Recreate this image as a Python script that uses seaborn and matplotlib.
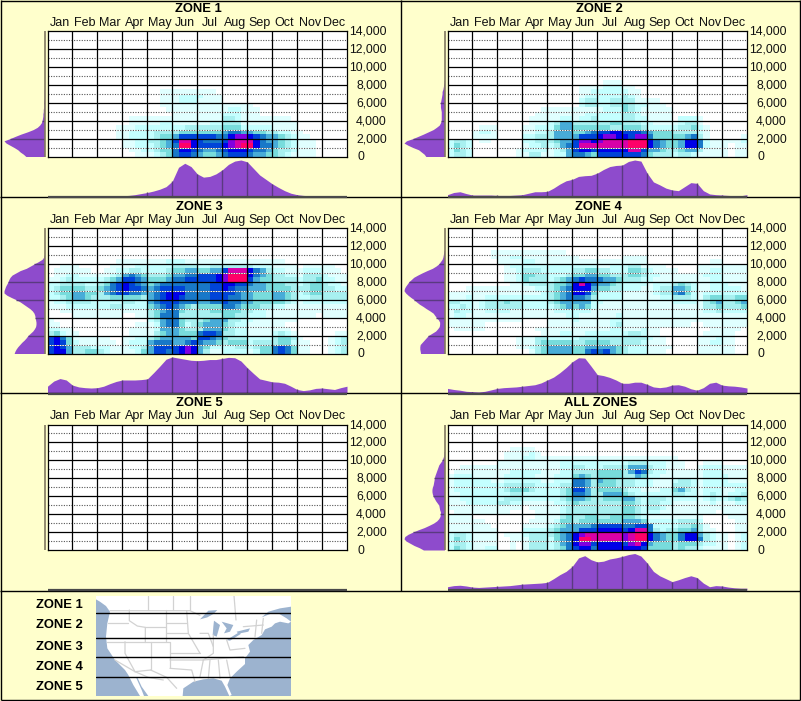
import matplotlib as mpl
mpl.use('Agg')
import matplotlib.pyplot as plt
from matplotlib.colors import ListedColormap
import numpy as np
import pandas as pd
import seaborn as sns

MONTHS = ["Jan", "Feb", "Mar", "Apr", "May", "Jun", "Jul", "Aug", "Sep", "Oct", "Nov", "Dec"]
ELEV_LABELS = ["14,000", "12,000", "10,000", "8,000", "6,000", "4,000", "2,000", "0"]
ELEVATIONS = [14000, 12000, 10000, 8000, 6000, 4000, 2000, 0]
ZONE_NAMES = ["ZONE 1", "ZONE 2", "ZONE 3", "ZONE 4", "ZONE 5"]

# shade level per cell, 4 cells a month, 500 ft rows, written top row first.
# rows above the listed ones are empty
ZONE1_CELLS = [
    "0000 0000 0000 0000 0011 1111 1110 0000 0000 0000 0000 0000",
    "0000 0000 0000 0000 0011 1222 2111 0000 0000 0000 0000 0000",
    "0000 0000 0000 0000 0011 1222 1111 0000 0000 0000 0000 0000",
    "0000 0000 0000 0000 0011 1111 1111 1111 1000 0000 0000 0000",
    "0000 0000 0000 0000 0001 1111 1111 1221 1100 0000 0000 0000",
    "0000 0000 0000 0000 0000 1111 1111 2221 1100 0000 0000 0000",
    "0000 0000 0000 0111 1111 1111 1111 3321 1111 1110 0000 0000",
    "0000 0000 0000 0111 1122 1111 1122 3331 1111 1111 0000 0000",
    "0000 0000 0001 1122 2222 2233 3333 4442 2222 1111 0000 0000",
    "0000 0000 0001 1222 2333 3444 4444 5665 5443 3221 1000 0000",
    "0000 0000 0001 1222 2344 5777 7776 6899 8765 5432 1100 0000",
    "0000 0000 0000 1122 3345 7aa8 7666 79aa a865 5432 1110 0000",
    "0000 0000 0000 1122 2345 6bb8 7777 89ab b866 5432 1110 0000",
    "0000 0000 0000 0112 2344 6887 6556 7888 7665 4332 1110 0000",
    "0000 0000 0000 0011 1234 6776 5445 6777 6554 4321 1110 0000",
]
ZONE2_CELLS = [
    "0000 0000 0000 0000 0000 0000 0111 0000 0000 0000 0000 0000",
    "0000 0000 0000 0000 0000 0111 1222 1100 0000 0000 0000 0000",
    "0000 0000 0000 0000 0000 0112 2222 2110 0000 0000 0000 0000",
    "0000 0000 0000 0000 0000 0122 2222 3210 0000 0000 0000 0000",
    "0000 0000 0000 0000 0000 0233 2233 3311 1100 0000 0000 0000",
    "0000 0000 0000 0000 0000 0233 2233 4322 1110 0000 0000 0000",
    "0000 0000 0000 0001 1111 1111 1222 4321 1111 0000 0000 0000",
    "0000 0000 0000 0011 1111 1122 2222 3321 1111 0000 0000 0000",
    "0000 0000 0000 0111 1122 1223 2222 3322 1111 0222 1000 0000",
    "0000 0000 0000 0111 2355 3333 3344 3332 2111 1233 1000 0000",
    "0000 0111 0000 1122 2455 4444 4433 4443 2222 2334 2100 0000",
    "0000 1221 0000 1122 3555 4456 7788 7776 5444 3333 2100 0000",
    "0000 1111 0000 2233 3555 5777 8998 8799 6444 4456 3100 0001",
    "2332 0110 0000 2233 3455 7998 9aaa abbb 8654 4588 6211 1112",
    "2432 0000 0000 1223 2356 7aaa aaaa abbb 8654 4588 6211 1011",
    "2432 0000 0001 2222 1235 7887 8888 8aa7 5543 3455 3111 1011",
    "2332 0000 0001 1331 1225 6654 7777 7776 4333 2332 1111 1011",
]
ZONE3_CELLS = [
    "0000 0000 0001 1111 1112 2211 1111 1111 1111 1100 0000 0000",
    "0011 1000 0011 1122 2222 3333 2233 3333 3222 1111 0111 1100",
    "0111 1110 0112 2332 2223 4455 4455 7aaa 8653 2211 1222 1110",
    "0112 2111 1123 5654 3334 5566 7778 9bbb 8654 3322 1333 2111",
    "1123 2222 2345 7765 4445 6677 7778 9bbb 7544 3333 2334 2211",
    "2233 3322 3467 8765 4566 6666 6677 8877 6554 4433 2344 3221",
    "2344 4433 4567 8776 5677 7766 6677 8766 5554 4443 3344 3322",
    "2344 5544 3567 7665 5678 8866 6677 7765 5444 5543 2344 3333",
    "2234 5543 3344 4443 5678 8766 6677 7665 5444 5543 2233 3333",
    "1223 3332 2222 3322 5677 7666 5566 7665 5444 4432 1222 2222",
    "1112 2222 2233 2222 4567 6543 4444 6654 4433 2211 1111 1111",
    "0011 1111 1111 1111 3456 6433 3344 4443 3221 1111 1111 1111",
    "0000 1111 1111 0011 3466 6333 3333 4433 2221 1111 1110 1111",
    "1000 0000 0000 0000 2356 6433 3455 5332 2111 1111 0000 0000",
    "1100 0000 0000 0011 1256 6423 4555 4322 1111 1100 0000 0000",
    "2211 0000 0000 0111 1255 5433 3555 4322 1111 1110 0000 0000",
    "3421 1000 0000 0111 1345 5444 6776 3322 1111 2321 0000 0011",
    "7864 1111 1100 1122 3455 5554 7765 4333 2222 3443 1000 0123",
    "7874 2111 1110 1222 5666 5567 6554 3444 2333 3442 1100 0123",
    "7875 3332 2211 1223 5777 7898 5422 2233 2344 6764 1100 0123",
    "7885 3344 3211 1124 5776 7898 5311 2222 1244 6764 1100 0123",
]
ZONE4_CELLS = [
    "0000 0001 1111 1111 1110 0000 0000 0000 0000 0000 0000 0000",
    "0000 0001 1122 1111 1111 1000 0000 1111 0000 0000 0000 0000",
    "0000 0000 1111 2211 1111 1111 1111 1111 0000 0000 0011 0000",
    "0000 0000 0122 2222 2222 2222 1122 2331 1110 0000 1111 1111",
    "0000 0000 0112 3332 2222 3344 3322 2443 2111 1000 1122 1111",
    "0000 0000 0112 4433 2223 4455 4433 3443 2211 1111 1222 1111",
    "0000 0000 0112 4333 2345 6766 6554 3332 2111 1111 1122 1111",
    "0000 0000 0011 2333 3445 8a86 5543 2222 1222 3432 1122 2111",
    "0001 1111 1111 1122 3456 8885 4433 2221 1233 5542 1122 2221",
    "1111 1111 1111 1112 3456 8874 2222 1111 1233 5642 1222 2222",
    "1112 1122 2222 2222 3456 6653 2222 1111 1122 3332 1344 3344",
    "3322 1233 3433 2222 3455 5552 2111 1111 1111 2222 1345 3345",
    "2232 1233 3333 2222 2345 4542 1111 1111 1111 1111 1334 3334",
    "1322 1122 2211 1111 1222 2221 1111 1111 1111 1111 1223 2222",
    "1221 1111 1111 1111 1112 2111 1112 1111 1111 1111 1111 1111",
    "1111 1111 1111 0000 1111 2111 1122 1111 1111 1111 1111 1111",
    "1111 1100 0000 0000 1111 1111 1123 1111 1111 1110 0111 1111",
    "0111 1100 0000 0011 1111 1111 1122 1112 1100 0000 0011 1110",
    "0000 0000 0000 0001 1122 1122 2222 2332 1100 0000 0111 1100",
    "0000 0000 0001 1133 2222 2333 3333 3333 2110 0000 1112 1100",
    "0000 0000 0001 1134 4444 3344 4433 3332 1110 0000 1122 1100",
    "0000 0000 0001 1234 5555 4455 5554 3222 1111 0000 1111 1100",
    "0000 0000 0000 0134 5555 4467 6754 3222 1110 0000 1111 1100",
]
ZONE5_CELLS = []
ALL_CELLS = [
    "0000 0000 0011 1100 0000 0000 0000 0000 0000 0000 0000 0000",
    "0000 0000 0111 1210 0000 0000 0000 0000 0000 0000 0000 0000",
    "0000 0000 0111 2211 1111 1111 1111 1111 1111 1000 0000 0000",
    "0000 0000 1111 1111 1122 2222 2222 2333 2221 1100 0111 0000",
    "0011 1111 1111 1111 1122 3322 2333 3555 3221 1100 1222 1111",
    "0111 1111 1122 2221 1122 3333 4444 3576 3221 1111 1222 1111",
    "1222 1111 1222 2211 1222 4543 4444 3354 2211 1111 1222 2111",
    "1222 2221 1222 2221 1222 6653 5443 3322 2111 2332 1222 2111",
    "1222 2222 2333 3322 2233 6653 4443 3322 2111 3332 1222 2222",
    "1222 2222 2344 4322 2234 7753 4444 3221 1122 4532 1222 1122",
    "1122 2222 2233 2222 2234 6653 3555 4322 2222 3322 1232 1223",
    "1122 2222 2333 2222 2234 5543 3444 5532 3332 2222 1232 2343",
    "1112 2222 3322 1111 1223 4333 3333 4432 3322 1111 1121 1122",
    "1111 1111 1111 0111 1123 3333 3333 4432 3321 1111 1111 1111",
    "0111 1111 1100 0011 1123 3333 3333 4432 2211 1111 1110 1111",
    "1111 0000 0000 0011 1134 3344 3344 4432 1111 1111 1000 0111",
    "1111 1100 0000 0111 1244 3444 4444 5554 2222 2333 2000 0011",
    "1111 1110 0000 1111 2345 5556 7777 6677 6222 2334 3100 0011",
    "1111 1111 0000 2222 3455 5777 8888 78aa 6323 3445 3110 0011",
    "2332 1111 0111 2333 3456 89aa aaaa 9abb 8654 4688 5321 1012",
    "2432 1111 0011 1333 2456 8bba aaaa 9abb 8654 4688 6321 1012",
    "2332 1111 0010 1333 2356 8997 8888 79a8 5444 3444 3221 1012",
    "2432 1122 0010 1333 2346 7886 8888 8887 4444 3433 2111 1012",
]

# marginal height in percent, sampled every quarter month
ZONE1_TOP = [0, 0, 0, 0, 0, 0, 0, 0, 0, 0, 1, 1, 2, 3, 5, 8, 11, 15, 20, 27, 42, 80, 91, 82, 62,
             53, 55, 62, 73, 88, 97, 100, 95, 77, 59, 47, 35, 25, 16, 9, 5, 3, 2, 1, 1, 0, 0, 0, 0]
ZONE2_TOP = [5, 11, 13, 8, 4, 4, 4, 4, 3, 3, 3, 4, 5, 9, 13, 13, 14, 23, 34, 43, 47, 55, 57, 58, 64,
             74, 82, 85, 86, 96, 100, 97, 64, 40, 32, 23, 18, 16, 27, 38, 36, 16, 7, 5, 4, 3, 2, 2, 5]
ZONE3_TOP = [20, 34, 41, 37, 23, 18, 16, 15, 16, 20, 27, 33, 37, 37, 37, 38, 40, 57, 75, 94, 100, 97, 94, 91, 90,
             91, 93, 93, 96, 99, 98, 89, 71, 55, 40, 36, 32, 31, 28, 20, 11, 8, 10, 14, 15, 13, 11, 16, 20]
ZONE4_TOP = [14, 11, 9, 6, 5, 4, 6, 10, 14, 16, 17, 18, 20, 22, 24, 29, 37, 45, 57, 71, 87, 98, 97, 75, 52,
             49, 44, 37, 28, 28, 31, 31, 25, 18, 16, 18, 23, 24, 20, 13, 9, 16, 28, 31, 23, 21, 20, 18, 15]
ZONE5_TOP = [0] * 49
ALL_TOP = [9, 12, 13, 11, 8, 7, 8, 9, 10, 11, 12, 14, 16, 17, 18, 19, 21, 31, 42, 51, 65, 88, 94, 83, 77,
           79, 85, 88, 92, 97, 100, 93, 74, 51, 39, 31, 23, 28, 34, 39, 34, 19, 9, 12, 11, 8, 6, 5, 5]

# marginal width in percent, sampled every 250 ft from 0 up
ZONE1_LEFT = [46, 52, 60, 66, 75, 85, 95, 100, 85, 72, 58, 42, 28, 18, 12, 8, 6, 5, 4, 4, 3, 3, 2, 2, 2, 2, 1, 1, 1, 1, 1]
ZONE2_LEFT = [46, 50, 57, 64, 78, 90, 100, 94, 78, 65, 52, 40, 28, 20, 13, 10, 8, 8, 8, 8, 8, 9, 10, 10, 10, 9, 8, 7,
              6, 6, 4, 3, 2, 1, 1]
ZONE3_LEFT = [75, 73, 70, 66, 61, 56, 50, 45, 41, 35, 29, 25, 22, 21, 21, 22, 23, 24, 26, 30, 36, 44, 52, 60, 70, 82,
              93, 100, 100, 98, 96, 93, 90, 88, 85, 80, 70, 60, 45, 35, 25, 15, 6, 2, 1]
ZONE4_LEFT = [59, 60, 61, 61, 60, 55, 50, 45, 40, 31, 22, 17, 13, 12, 12, 15, 20, 24, 28, 36, 45, 53, 62, 69, 75, 83,
              90, 96, 100, 99, 96, 92, 88, 82, 76, 66, 55, 43, 30, 21, 14, 10, 6, 4, 3, 2, 1]
ZONE5_LEFT = [0] * 29
ALL_LEFT = [52, 62, 75, 85, 95, 100, 98, 90, 78, 65, 50, 38, 27, 19, 14, 11, 10, 10, 12, 13, 14, 18, 22, 25, 28, 30,
            31, 31, 30, 28, 27, 26, 25, 24, 22, 20, 18, 16, 14, 10, 6, 4, 2, 1, 1]

SHADES = ["#FFFFFF", "#E0FFFF", "#C4FFFF", "#A8F0F0", "#78DCDC", "#48ACD8",
          "#1878C8", "#0044D8", "#0000E8", "#8000E0", "#D800A8", "#FF0068"]
BG = "#FFFFCC"
PURPLE = "#8E4BCC"

sns.set_theme(style="white")
plt.rcParams['font.family'] = ['Liberation Sans', 'DejaVu Sans']

W, H = 801, 701
cmap = ListedColormap(SHADES)
fig = plt.figure(figsize=(W / 100, H / 100), dpi=100, facecolor=BG)


def px_axes(x0, y0, x1, y1):
    # axes from pixel box, y measured from top of the image
    return fig.add_axes([x0 / W, 1 - y1 / H, (x1 - x0) / W, (y1 - y0) / H])


def to_frame(rows):
    table = [list(r.replace(" ", "")) for r in rows]
    table = [[int(c, 16) for c in r] for r in table]
    blank = [[0] * 48 for _ in range(28 - len(table))]
    return pd.DataFrame(blank + table)


def draw_zone(x0, y0, title, title_x, title_y, cells, top, left):
    x1 = x0 + 299.5
    y1 = y0 + 125.5
    ax = px_axes(x0, y0, x1, y1)
    sns.heatmap(to_frame(cells), ax=ax, cmap=cmap, vmin=-0.5, vmax=11.5, cbar=False,
                xticklabels=False, yticklabels=False)
    # odd thousands are a white line with dark dots on it
    for r in range(2, 28, 4):
        ax.axhline(r, color="white", lw=0.7)
        ax.axhline(r, color="#555555", lw=0.8, ls=(0, (1, 1.3)))
    for r in range(4, 28, 4):
        ax.axhline(r, color="black", lw=0.9)
    for c in range(4, 48, 4):
        ax.axvline(c, color="black", lw=0.9)
    for s in ax.spines.values():
        s.set_visible(True)
        s.set_color("black")
        s.set_linewidth(0.9)
    ax.xaxis.tick_top()
    ax.set_xticks(np.arange(2, 48, 4))
    ax.set_xticklabels(MONTHS, fontsize=9, color="#111111")
    ax.tick_params(axis='x', length=0, pad=1.5)
    ax.set_yticks([])
    ax.set_xlabel("")
    ax.set_ylabel("")

    over.text(title_x, title_y + 0.5, title, ha="center", va="center", fontsize=9.4,
              fontweight="bold", color="black")
    for lab, el in zip(ELEV_LABELS, ELEVATIONS):
        yy = y1 - el / 14000 * (y1 - y0)
        if lab == "0":
            over.text(x0 + 309.5, yy + 0.5, lab, ha="left", va="center", fontsize=8.8, color="#111111")
        else:
            over.text(x0 + 339.5, yy + 0.5, lab, ha="right", va="center", fontsize=8.8, color="#111111")

    # top marginal, month position on x
    tx = px_axes(x0, y0 + 129, x1, y0 + 165.5)
    months_x = np.arange(len(top)) / 4
    tx.fill_between(months_x, top, 0, color=PURPLE, lw=0)
    tx.vlines(months_x[4:-1:4], 0, top[4:-1:4], color="#5A3A80", lw=1)
    tx.set_xlim(0, 12)
    tx.set_ylim(0, 100)
    tx.axis("off")
    over.plot([x0, x1], [y0 + 165.5, y0 + 165.5], color="#4A4A4A", lw=1.6, solid_capstyle="butt")

    # left marginal, elevation on y
    lx = px_axes(x0 - 43.5, y0, x0 - 3, y1)
    elev = np.arange(len(left)) * 250
    lx.fill_betweenx(elev, left, 0, color=PURPLE, lw=0)
    lx.hlines(elev[8::8], 0, left[8::8], color="#5A3A80", lw=1)
    lx.set_xlim(100, 0)
    lx.set_ylim(0, 14000)
    lx.axis("off")
    over.plot([x0 - 3, x0 - 3], [y0, y1], color="#807860", lw=1.2, solid_capstyle="butt")


over = fig.add_axes([0, 0, 1, 1], zorder=5)
over.set_xlim(0, W)
over.set_ylim(H, 0)
over.axis("off")

# panel frame
for xs, ys in [([0.5, 800], [0.5, 0.5]), ([0.5, 800], [699.5, 699.5]), ([0.5, 0.5], [0, 700]),
               ([800, 800], [0, 700]), ([400.5, 400.5], [0, 591]), ([0, 800], [196.8, 196.8]),
               ([0, 800], [393.3, 393.3]), ([0, 800], [591, 591])]:
    over.plot(xs, ys, color="black", lw=1, solid_capstyle="butt")

draw_zone(47.5, 31, "ZONE 1", 198, 9, ZONE1_CELLS, ZONE1_TOP, ZONE1_LEFT)
draw_zone(447.5, 31, "ZONE 2", 599, 9, ZONE2_CELLS, ZONE2_TOP, ZONE2_LEFT)
draw_zone(47.5, 228, "ZONE 3", 199, 206, ZONE3_CELLS, ZONE3_TOP, ZONE3_LEFT)
draw_zone(447.5, 228, "ZONE 4", 598, 206, ZONE4_CELLS, ZONE4_TOP, ZONE4_LEFT)
draw_zone(47.5, 424.5, "ZONE 5", 199, 403, ZONE5_CELLS, ZONE5_TOP, ZONE5_LEFT)
draw_zone(447.5, 424.5, "ALL ZONES", 600.5, 403, ALL_CELLS, ALL_TOP, ALL_LEFT)

# zone key with a small map
for name, yy in zip(ZONE_NAMES, [605, 625, 647.3, 666.7, 686.7]):
    over.text(59.5, yy, name, ha="center", va="center", fontsize=9.4, fontweight="bold", color="black")

mp = px_axes(96, 595.7, 291, 696)
mp.set_facecolor("#9CB3CF")
mp.set_xlim(288, 873)
mp.set_ylim(318, 17)
mp.set_xticks([])
mp.set_yticks([])
for s in mp.spines.values():
    s.set_visible(False)
LAND = [(288, 17), (873, 17), (873, 50), (840, 55), (805, 65), (785, 82), (810, 72), (835, 70), (860, 85),
        (873, 95), (865, 100), (840, 95), (825, 100), (815, 110), (795, 118), (785, 135), (760, 150),
        (745, 165), (750, 185), (735, 205), (735, 222), (710, 245), (690, 265), (682, 285), (695, 315),
        (688, 318), (675, 290), (665, 272), (640, 265), (610, 268), (580, 275), (550, 295), (548, 318),
        (445, 318), (425, 290), (412, 262), (408, 262), (425, 300), (432, 318), (420, 318), (400, 285),
        (385, 255), (375, 240), (345, 210), (322, 175), (318, 140), (322, 100), (330, 65), (318, 48),
        (300, 35), (288, 28)]
mp.fill(*zip(*LAND), color="white", lw=0)
LAKES = [[(600, 88), (625, 62), (652, 60), (640, 72), (622, 82)],
         [(642, 92), (660, 105), (650, 140), (638, 135), (640, 110)],
         [(665, 95), (700, 105), (690, 125), (672, 130), (680, 115)],
         [(680, 150), (720, 125), (722, 132), (690, 152)],
         [(710, 125), (750, 115), (745, 125), (715, 131)]]
for lake in LAKES:
    mp.fill(*zip(*lake), color="#9CB3CF", lw=0)
BORDERS = [[(330, 62), (570, 62), (600, 76)], [(445, 17), (445, 60)], [(520, 17), (520, 60)], [(570, 17), (570, 60)],
           [(702, 17), (708, 90)], [(388, 60), (388, 92), (412, 108), (436, 112), (436, 155)],
           [(325, 98), (385, 98)], [(498, 60), (498, 152)], [(436, 112), (498, 112)], [(498, 98), (560, 98)],
           [(498, 130), (565, 130)], [(320, 155), (436, 155)], [(436, 155), (510, 155), (510, 235)],
           [(452, 155), (452, 240)], [(345, 210), (405, 245)], [(375, 155), (375, 190), (405, 245), (452, 240)],
           [(510, 190), (600, 190)], [(510, 210), (610, 210), (600, 260)], [(560, 62), (565, 130), (600, 190)],
           [(600, 130), (625, 130), (640, 170)], [(640, 135), (640, 190), (610, 210)], [(680, 150), (690, 180), (735, 175)],
           [(610, 210), (730, 200)], [(630, 210), (625, 265)], [(655, 210), (660, 265)], [(680, 210), (690, 260)],
           [(452, 240), (500, 262), (530, 295)], [(770, 90), (765, 140)], [(790, 85), (785, 130)], [(730, 110), (790, 105)],
           [(510, 235), (575, 240), (585, 275)], [(405, 245), (445, 262), (490, 270)]]
for b in BORDERS:
    mp.plot(*zip(*b), color="#D2D2D2", lw=0.9)
for yy in [70, 143, 200, 260]:
    mp.axhline(yy, color="black", lw=1)

plt.savefig("out.png", dpi=100, facecolor=BG)
